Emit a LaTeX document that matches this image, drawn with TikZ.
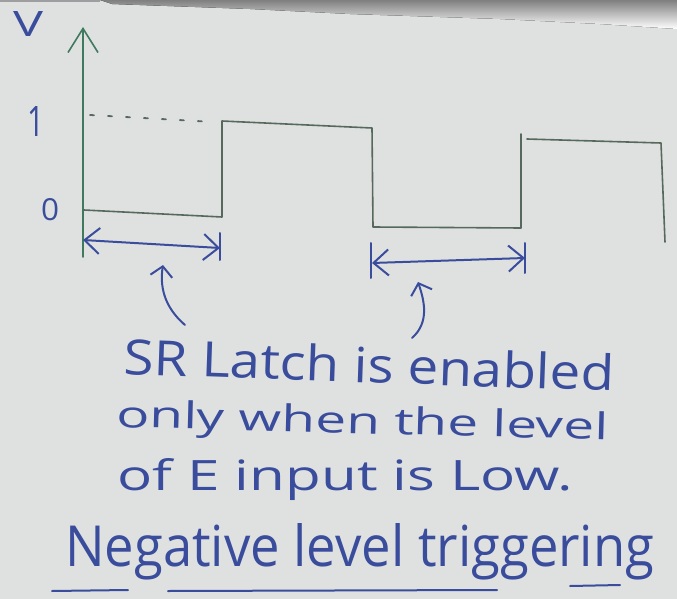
\documentclass[tikz,border=0pt]{standalone}
\usepackage{fontspec}
\usepackage{graphicx}
\setmainfont{Open Sans}
\usetikzlibrary{arrows.meta}
\definecolor{paper}{HTML}{DFE1E1}
\definecolor{penGreen}{HTML}{56695C}
\definecolor{axisGreen}{HTML}{3F7A5E}
\definecolor{ink}{HTML}{3A4C9C}
\definecolor{shade}{HTML}{737277}
\newcommand{\fitbox}[3]{\resizebox{#1pt}{#2pt}{#3}}
\begin{document}
\begin{tikzpicture}[x=1pt,y=-1pt,
  wave/.style={draw=penGreen, line width=1.6pt, line join=round, line cap=round},
  bluepen/.style={draw=ink, line width=2pt, line cap=round, line join=round},
  hand/.style={text=ink, inner sep=0pt, anchor=base west},
  dimarrow/.style={bluepen, {Straight Barb[length=15pt,width=26pt,line width=2pt]}-{Straight Barb[length=15pt,width=26pt,line width=2pt]}},
  pointer/.style={bluepen, -{Straight Barb[length=10pt,width=22pt,line width=2pt]}},
  axisarrow/.style={draw=axisGreen, line width=1.6pt, line cap=round, -{Straight Barb[length=24pt,width=30pt,line width=1.6pt]}}
]
% paper and margins
\fill[paper] (0,0) rectangle (677,599);
\useasboundingbox (0,0) rectangle (677,599);
% shadow band at the top
\fill[shade] (100,0) -- (677,0) -- (677,29) -- (600,24) -- (500,19) -- (350,14) -- (250,9) -- (112,4) -- cycle;
\fill[shade!60!paper] (0,0) rectangle (100,2);

% named points of the waveform
\coordinate (o) at (83,257);
\coordinate (top) at (83,27);
\coordinate (w0) at (84,210);
\coordinate (w1) at (222,217);
\coordinate (w2) at (222,121);
\coordinate (w3) at (372,128);
\coordinate (w4) at (373,227);
\coordinate (w5) at (521,228);
\coordinate (w6) at (521,134);
\coordinate (w6b) at (527,139);
\coordinate (w7) at (661,143);
\coordinate (w8) at (665,242);

% axis
\draw[axisarrow] (o) -- (top);
% dotted level-1 guide
\coordinate (d0) at (90,115);
\coordinate (d1) at (214,122);
\draw[draw=penGreen, line width=1.8pt, dash pattern=on 4pt off 14pt, line cap=round] (d0) -- (d1);
% waveform
\draw[wave] (w0) -- (w1) -- (w2) -- (w3) -- (w4) -- (w5) -- (w6);
\draw[wave] (w6b) -- (w7) -- (w8);

% axis labels
\node[hand] (lv) at (13,37) {\fitbox{30}{25}{V}};
\node[hand] (l1) at (27,137) {\fitbox{17}{30}{1}};
\node[hand] (l0) at (41,220) {\fitbox{18}{22}{0}};

% first dimension arrow
\coordinate (a1) at (83,240);
\coordinate (a2) at (220,248);
\coordinate (t1a) at (220,233);
\coordinate (t1b) at (220,260);
\draw[dimarrow] (a1) -- (a2);
\draw[bluepen] (t1a) -- (t1b);

% second dimension arrow
\coordinate (b1) at (372,263);
\coordinate (b2) at (525,258);
\coordinate (t2a) at (371,243);
\coordinate (t2b) at (371,278);
\coordinate (t3a) at (525,243);
\coordinate (t3b) at (525,273);
\draw[dimarrow] (b1) -- (b2);
\draw[bluepen] (t2a) -- (t2b);
\draw[bluepen] (t3a) -- (t3b);

% curved pointers
\coordinate (p1s) at (185,325);
\coordinate (p1e) at (163,265);
\draw[pointer] (p1s) .. controls (163,306) and (160,285) .. (p1e);
\coordinate (p2s) at (412,338);
\coordinate (p2e) at (418,282);
\draw[pointer] (p2s) .. controls (430,322) and (424,300) .. (p2e);

% text
\node[hand, rotate=-2] (txt1) at (123,374) {\fitbox{491}{37}{SR Latch is enabled}};
\node[hand, rotate=-1.5] (txt2) at (116,427) {\fitbox{492}{28}{only when the level}};
\node[hand] (txt3) at (117,490) {\fitbox{456}{32}{of E input is Low.}};
\node[hand] (txt4) at (65,566) {\fitbox{589}{43}{Negative level triggering}};

% broken underline
\coordinate (u0) at (52,591);
\coordinate (u1) at (128,590);
\coordinate (u2) at (168,591);
\coordinate (u3) at (497,590);
\coordinate (u4) at (570,586);
\coordinate (u5) at (620,585);
\draw[bluepen] (u0) -- (u1);
\draw[bluepen] (u2) -- (u3);
\draw[bluepen] (u4) -- (u5);
\end{tikzpicture}
\end{document}
